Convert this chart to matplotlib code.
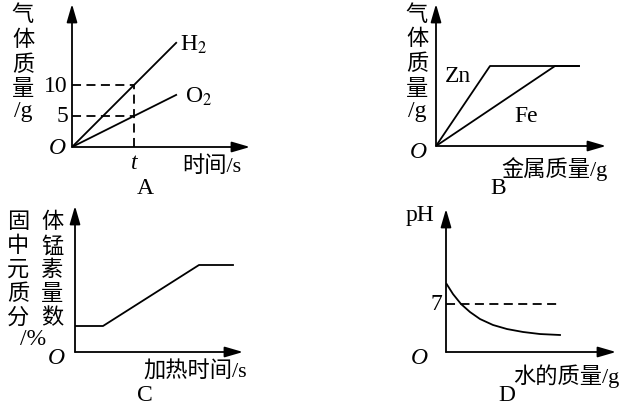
import matplotlib
matplotlib.use('Agg')
import matplotlib.pyplot as plt

# — DATA —
# A: gas mass vs time (t = 1)
A_time = [0, 1.68]
A_h2 = [0, 16.8]
A_o2 = [0, 8.4]
A_t = 1.0
A_ticks = [5, 10]

# B: gas mass vs metal mass
B_zn_x = [0, 5.4, 14.3]
B_zn_y = [0, 8.0, 8.0]
B_fe_x = [0, 11.9, 14.3]
B_fe_y = [0, 8.0, 8.0]

# C: Mn mass fraction in solid vs heating time
C_x = [0, 2.8, 12.4, 15.8]
C_y = [2.6, 2.6, 8.7, 8.7]

# D: pH vs water mass
D_x = [0.07, 0.7, 1.5, 2.4, 3.4, 4.7, 6.1, 7.7, 9.4, 11.4]
D_ph = [9.9, 8.45, 7.0, 5.83, 4.81, 3.94, 3.35, 2.92, 2.62, 2.48]
D_ref = 7
D_ref_end = 11.1

W, H = 640, 406
FONT = ['Liberation Serif', 'Noto Sans CJK SC']
plt.rcParams['mathtext.fontset'] = 'stix'
plt.rcParams['font.family'] = FONT

fig = plt.figure(figsize=(W / 100, H / 100), dpi=100)
LW = 1.3
DASH = (0, (5, 3))
LAT = 17   # latin text size
CJK = 16   # chinese text size


def panel(ox, oy, w, h, xmax, ymax):
    # origin in pixels, width/height up to the arrow tips
    ax = fig.add_axes([ox / W, 1 - oy / H, w / W, h / H])
    ax.set_xlim(0, xmax)
    ax.set_ylim(0, ymax)
    ax.axis('off')
    ap = dict(arrowstyle='-|>,head_length=0.55,head_width=0.16',
              mutation_scale=20, lw=LW, color='black', shrinkA=0, shrinkB=0)
    ax.annotate('', xy=(1, 0), xytext=(0, 0), xycoords='axes fraction', arrowprops=ap)
    ax.annotate('', xy=(0, 1), xytext=(0, 0), xycoords='axes fraction', arrowprops=ap)
    return ax


def ftext(x, y, s, size=LAT, **kw):
    if any(c > '\u2e80' for c in s):
        y += 4   # CJK glyphs sit high with va=center
        size = CJK
    fig.text(x / W, 1 - y / H, s, ha=kw.pop('ha', 'center'), va=kw.pop('va', 'center'),
             fontsize=size, family=FONT, **kw)


def column(x, ys, chars):
    for y, c in zip(ys, chars):
        ftext(x, y, c)


# ---- A ----
axA = panel(72, 148, 178, 143, 178 / 62, 143 / 6.2)
axA.plot(A_time, A_h2, color='black', lw=LW)
axA.plot(A_time, A_o2, color='black', lw=LW)
h_at_t = A_h2[1] / A_time[1] * A_t
o_at_t = A_o2[1] / A_time[1] * A_t
axA.plot([0, A_t], [h_at_t, h_at_t], color='black', lw=LW, ls=DASH)
axA.plot([0, A_t], [o_at_t, o_at_t], color='black', lw=LW, ls=DASH)
axA.plot([A_t, A_t], [0, h_at_t], color='black', lw=LW, ls=DASH)
for v in A_ticks:
    axA.annotate(str(v), xy=(0, v), xytext=(-3, 0), textcoords='offset points',
                 ha='right', va='center', fontsize=LAT, family=FONT, annotation_clip=False)
axA.annotate('t', xy=(A_t, 0), xytext=(0, -11), textcoords='offset points',
             ha='center', va='center', fontsize=LAT, style='italic', family=FONT,
             annotation_clip=False)
column(23, [12, 37, 62, 86, 112], ['气', '体', '质', '量', '/g'])
ftext(57, 149, 'O', style='italic')
ftext(212, 163, '时间/s')
ftext(145, 189, 'A')
ftext(180, 45, 'H$_2$', ha='left')
ftext(185, 97, 'O$_2$', ha='left')

# ---- B ----
axB = panel(436, 147, 170, 142, 17.0, 14.2)
axB.plot(B_zn_x, B_zn_y, color='black', lw=LW)
axB.plot(B_fe_x, B_fe_y, color='black', lw=LW)
column(417, [12, 36, 61, 86, 112], ['气', '体', '质', '量', '/g'])
ftext(445, 76, 'Zn', ha='left')
ftext(514, 117, 'Fe', ha='left')
ftext(418, 153, 'O', style='italic')
ftext(554, 165, '金属质量/g')
ftext(498, 189, 'B')

# ---- C ----
axC = panel(75, 353, 168, 146, 16.8, 14.6)
axC.plot(C_x, C_y, color='black', lw=LW)
column(18, [219, 243, 267, 291, 315], ['固', '中', '元', '质', '分'])
column(52, [219, 243, 267, 291, 315], ['体', '锰', '素', '量', '数'])
ftext(33, 340, '/%')
ftext(56, 359, 'O', style='italic')
ftext(195, 368, '加热时间/s')
ftext(145, 396, 'C')

# ---- D ----
axD = panel(446, 353, 170, 143, 17.0, 143 / (48 / 7))
axD.plot(D_x, D_ph, color='black', lw=LW)
axD.plot([0, D_ref_end], [D_ref, D_ref], color='black', lw=LW, ls=DASH)
axD.annotate(str(D_ref), xy=(0, D_ref), xytext=(-3, 0), textcoords='offset points',
             ha='right', va='center', fontsize=LAT, family=FONT, annotation_clip=False)
ftext(420, 216, 'pH')
ftext(419, 359, 'O', style='italic')
ftext(566, 372, '水的质量/g')
ftext(507, 396, 'D')

fig.savefig('out.png', dpi=100)
